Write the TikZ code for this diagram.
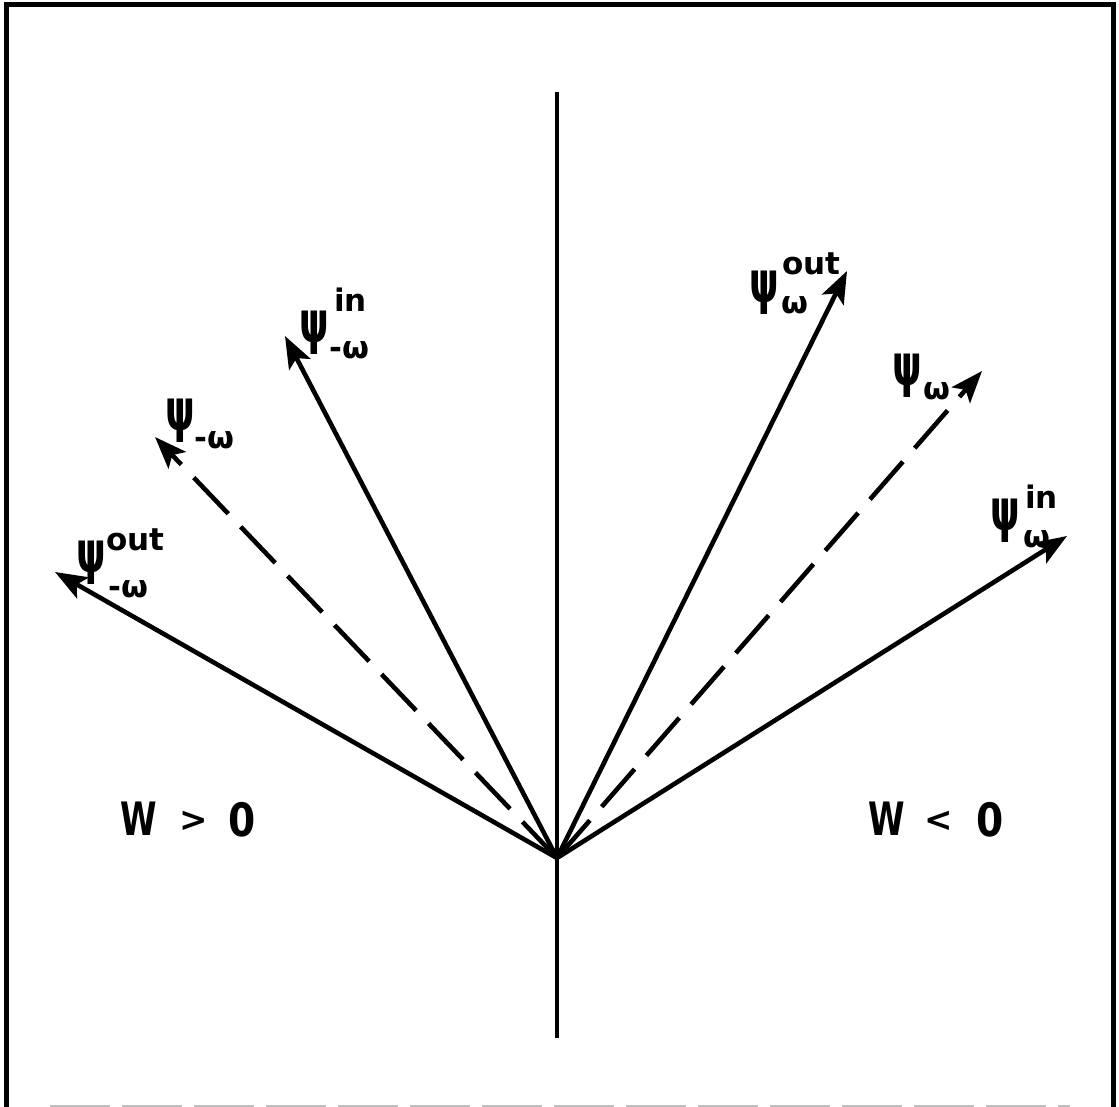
\documentclass[tikz,border=0pt]{standalone}
\usepackage{fontspec}
\setmainfont{DejaVu Sans}
\usetikzlibrary{arrows.meta}
\newcommand\mypsi{\scalebox{0.78}[1.2]{ψ}}
\begin{document}
\begin{tikzpicture}[x=1pt,y=-1pt,
  vec/.style={line width=4.6pt, -{Stealth[length=32pt,width=24pt,inset=7pt]}},
  dvec/.style={vec, dash pattern=on 50pt off 18pt},
  psi/.style={font=\fontsize{48}{48}\selectfont\bfseries, inner sep=0pt, anchor=base west},
  scr/.style={font=\fontsize{31}{31}\selectfont\bfseries, inner sep=0pt, anchor=base west},
  wlab/.style={font=\fontsize{46}{46}\selectfont\bfseries, inner sep=0pt, anchor=base west},
  rel/.style={font=\fontsize{34}{34}\selectfont\bfseries, inner sep=0pt, anchor=base west}]
\useasboundingbox (0,0) rectangle (1119,1107);
% frame
\coordinate (fbl) at (6,1107);
\coordinate (ftl) at (6,5);
\coordinate (ftr) at (1113,5);
\coordinate (fbr) at (1113,1107);
\draw[line width=5pt] (fbl) -- (ftl) -- (ftr) -- (fbr);
\coordinate (gl) at (50,1106);
\coordinate (gr) at (1070,1106);
\draw[black!25, line width=2pt, dash pattern=on 60pt off 12pt] (gl) -- (gr);
% axis
\coordinate (O) at (557,858);
\coordinate (top) at (557,92);
\coordinate (bot) at (557,1038);
\draw[line width=4.6pt] (top) -- (bot);
% arrow tips
\coordinate (t1) at (55,572);
\coordinate (t2) at (155,437);
\coordinate (t3) at (285,336);
\coordinate (t4) at (847,271);
\coordinate (t5) at (982,371);
\coordinate (t6) at (1067,536);
\draw[vec] (O) -- (t1);
\draw[dvec] (O) -- (t2);
\draw[vec] (O) -- (t3);
\draw[vec] (O) -- (t4);
\draw[dvec] (O) -- (t5);
\draw[vec] (O) -- (t6);
% labels
\node[psi] (p1) at (76,572) {\mypsi};
\node[scr] (p1a) at (106,550) {out};
\node[scr] (p1b) at (108,597) {-ω};
\node[psi] (p2) at (165,430) {\mypsi};
\node[scr] (p2b) at (194,448) {-ω};
\node[psi] (p3) at (299,342) {\mypsi};
\node[scr] (p3a) at (334,312) {in};
\node[scr] (p3b) at (329,358) {-ω};
\node[psi] (p4) at (749,302) {\mypsi};
\node[scr] (p4a) at (782,275) {out};
\node[scr] (p4b) at (781,314) {ω};
\node[psi] (p5) at (892,385) {\mypsi};
\node[scr] (p5b) at (923,399) {ω};
\node[psi] (p6) at (990,530) {\mypsi};
\node[scr] (p6a) at (1025,508) {in};
\node[scr] (p6b) at (1023,547) {ω};
% W labels
\node[wlab] (w1) at (120,835) {\scalebox{0.72}[1]{W}};
\node[rel] (r1) at (179,831) {>};
\node[wlab] (z1) at (228,836) {\scalebox{0.85}[1]{0}};
\node[wlab] (w2) at (868,835) {\scalebox{0.72}[1]{W}};
\node[rel] (r2) at (924,831) {<};
\node[wlab] (z2) at (976,836) {\scalebox{0.85}[1]{0}};
\end{tikzpicture}
\end{document}
